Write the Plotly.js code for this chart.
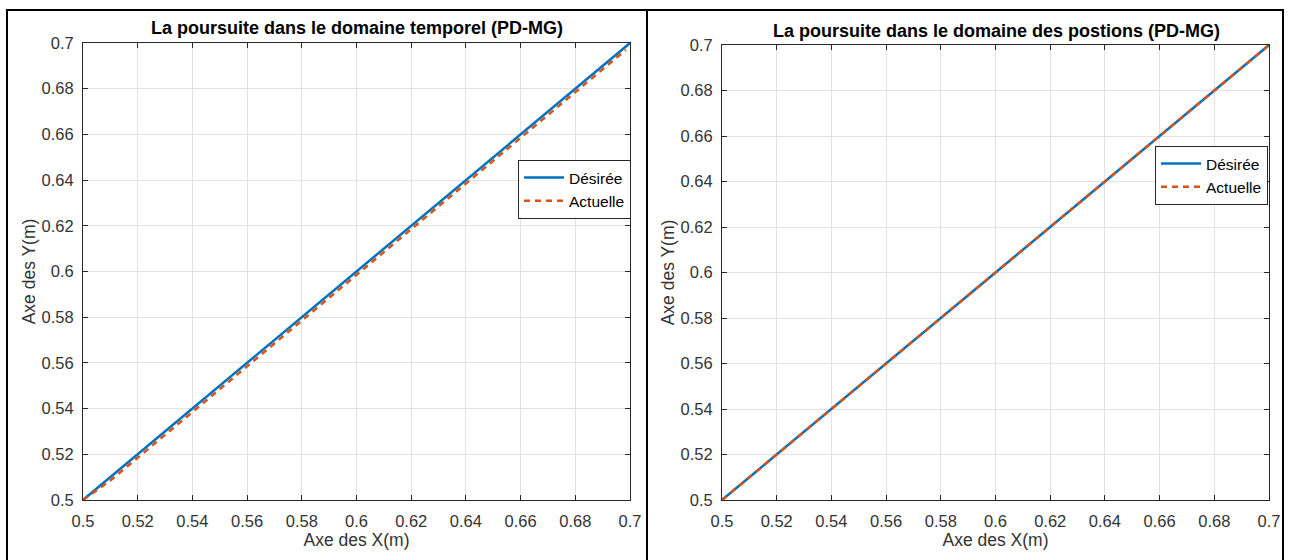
<!DOCTYPE html>
<html><head><meta charset="utf-8">
<script src="https://cdn.plot.ly/plotly-3.0.1.min.js"></script>
<style>html,body{margin:0;padding:0;background:#fff}</style>
</head><body><div id="chart" style="width:1292px;height:560px"></div>
<script>
// Left panel: time-domain tracking
const xDesT = [0.5, 0.55, 0.6, 0.65, 0.7];
const yDesT = [0.5, 0.55, 0.6, 0.65, 0.7];
const xActT = [0.5, 0.51, 0.52, 0.54, 0.56, 0.58, 0.6, 0.62, 0.64, 0.66, 0.68, 0.6985];
const yActT = [0.5, 0.5085, 0.5185, 0.5385, 0.5585, 0.5785, 0.5985, 0.6185, 0.6385, 0.6585, 0.6785, 0.697];
// Right panel: position-domain tracking
const xDesP = [0.5, 0.55, 0.6, 0.65, 0.7];
const yDesP = [0.5, 0.55, 0.6, 0.65, 0.7];
const xActP = [0.5, 0.55, 0.6, 0.65, 0.7];
const yActP = [0.5, 0.55, 0.6, 0.65, 0.7];
const tickVals = [0.5,0.52,0.54,0.56,0.58,0.6,0.62,0.64,0.66,0.68,0.7];
const tickText = ['0.5','0.52','0.54','0.56','0.58','0.6','0.62','0.64','0.66','0.68','0.7'];
const seriesNames = ['Désirée','Actuelle'];
const titles = ['La poursuite dans le domaine temporel (PD-MG)','La poursuite dans le domaine des postions (PD-MG)'];
const xTitle = 'Axe des X(m)';
const yTitle = 'Axe des Y(m)';

const blue = '#0072BD', orange = '#D95319';
const W = 1292, H = 560;
const px = v => v / W, py = v => (H - v) / H;

const traces = [
  {x: xDesT, y: yDesT, mode: 'lines', name: seriesNames[0], line: {color: blue, width: 2.5}, xaxis: 'x', yaxis: 'y', legend: 'legend'},
  {x: xActT, y: yActT, mode: 'lines', name: seriesNames[1], line: {color: orange, width: 2.5, dash: '6px,5px'}, xaxis: 'x', yaxis: 'y', legend: 'legend'},
  {x: xDesP, y: yDesP, mode: 'lines', name: seriesNames[0], line: {color: blue, width: 2.5}, xaxis: 'x2', yaxis: 'y2', legend: 'legend2'},
  {x: xActP, y: yActP, mode: 'lines', name: seriesNames[1], line: {color: orange, width: 2.5, dash: '6px,5px'}, xaxis: 'x2', yaxis: 'y2', legend: 'legend2'}
];

const fam = 'Liberation Sans, Arial, sans-serif';
const font = {family: fam, size: 16, color: '#262626'};
function ax(domain, anchor, title, standoff, isY) {
  return {
    domain: domain, anchor: anchor, range: [0.5, 0.7], tickvals: tickVals, ticktext: tickText,
    showgrid: true, gridcolor: '#e2e2e2', gridwidth: 1, zeroline: false,
    showline: true, linecolor: '#262626', linewidth: 1, mirror: 'ticks',
    ticks: 'inside', ticklen: 5, tickcolor: '#262626', tickwidth: 1,
    ticklabelstandoff: isY ? 5 : 6,
    tickfont: {family: fam, size: 16.5, color: '#333'},
    title: {text: title, font: {family: fam, size: 17.5, color: '#333'}, standoff: standoff},
    fixedrange: true
  };
}

const legendBase = {xanchor: 'right', yanchor: 'top', bgcolor: '#fff', bordercolor: '#262626', borderwidth: 1,
  font: {family: fam, size: 15.5, color: '#000'}, tracegroupgap: 0, itemwidth: 40};

const layout = {
  width: W, height: H, margin: {l: 0, r: 0, t: 0, b: 0},
  paper_bgcolor: '#fff', plot_bgcolor: '#fff', font: font, showlegend: true,
  xaxis: ax([px(83), px(630)], 'y', xTitle, 2, false),
  yaxis: ax([py(500), py(43)], 'x', yTitle, 1, true),
  xaxis2: ax([px(722), px(1269)], 'y2', xTitle, 2, false),
  yaxis2: ax([py(500), py(45)], 'x2', yTitle, 1, true),
  legend: Object.assign({x: px(631), y: py(160)}, legendBase),
  legend2: Object.assign({x: px(1268), y: py(146)}, legendBase),
  annotations: [
    {text: '<b>' + titles[0] + '</b>', x: px(357), y: py(28), xref: 'paper', yref: 'paper', xanchor: 'center', yanchor: 'middle', showarrow: false, font: {family: fam, size: 18, color: '#000'}},
    {text: '<b>' + titles[1] + '</b>', x: px(996), y: py(31), xref: 'paper', yref: 'paper', xanchor: 'center', yanchor: 'middle', showarrow: false, font: {family: fam, size: 18, color: '#000'}}
  ],
  shapes: [
    {type: 'rect', xref: 'paper', yref: 'paper', x0: px(7), x1: px(1283), y0: -0.02, y1: py(10), line: {color: '#000', width: 2}},
    {type: 'line', xref: 'paper', yref: 'paper', x0: px(647), x1: px(647), y0: -0.02, y1: py(10), line: {color: '#000', width: 2}}
  ]
};

Plotly.newPlot('chart', traces, layout, {displayModeBar: false, staticPlot: true});
</script></body></html>
